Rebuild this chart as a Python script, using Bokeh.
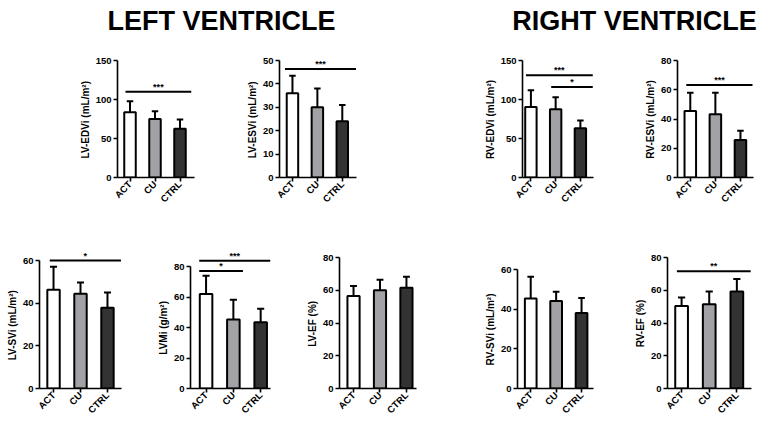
import math
from bokeh.plotting import figure
from bokeh.layouts import column, row
from bokeh.models import Range1d, FixedTicker, Label, Title
from bokeh.embed import file_html
from bokeh.resources import INLINE
from bokeh.core.properties import value

# ---------------- data ----------------
groups = ["ACT", "CU", "CTRL"]
group_x = [1, 2, 3]
bar_colors = ["#ffffff", "#a2a2a6", "#333333"]

lv_edvi_mean = [83.5, 75.0, 62.5]
lv_edvi_sd = [14.3, 10.0, 11.7]
lv_esvi_mean = [36.0, 30.0, 24.0]
lv_esvi_sd = [7.5, 8.0, 7.0]
rv_edvi_mean = [90.5, 87.5, 63.0]
rv_edvi_sd = [21.5, 15.5, 10.0]
rv_esvi_mean = [45.5, 43.3, 25.7]
rv_esvi_sd = [12.5, 14.7, 6.3]
lv_svi_mean = [46.3, 44.4, 37.8]
lv_svi_sd = [10.8, 5.3, 7.2]
lvmi_mean = [62.0, 45.3, 43.4]
lvmi_sd = [12.0, 12.9, 8.9]
lv_ef_mean = [56.6, 60.1, 61.6]
lv_ef_sd = [6.2, 6.5, 6.8]
rv_svi_mean = [45.4, 44.1, 38.1]
rv_svi_sd = [11.0, 4.7, 7.5]
rv_ef_mean = [50.5, 51.6, 59.4]
rv_ef_sd = [5.2, 7.8, 7.6]

lv_edvi_ticks = [0, 50, 100, 150]
lv_esvi_ticks = [0, 10, 20, 30, 40, 50]
rv_edvi_ticks = [0, 50, 100, 150]
rv_esvi_ticks = [0, 20, 40, 60, 80]
lv_svi_ticks = [0, 20, 40, 60]
lvmi_ticks = [0, 20, 40, 60, 80]
lv_ef_ticks = [0, 20, 40, 60, 80]
rv_svi_ticks = [0, 20, 40, 60]
rv_ef_ticks = [0, 20, 40, 60, 80]

# significance brackets: (stars, from, to, level)
lv_edvi_sig = [("***", 0.82, 3.45, 110)]
lv_esvi_sig = [("***", 0.70, 3.55, 46.4)]
rv_edvi_sig = [("***", 0.80, 3.50, 131), ("*", 1.82, 3.50, 116)]
rv_esvi_sig = [("***", 0.84, 3.48, 63.3)]
lv_svi_sig = [("*", 0.86, 3.50, 60)]
lvmi_sig = [("***", 0.75, 3.36, 83.8), ("*", 0.75, 2.35, 77)]
lv_ef_sig = []
rv_svi_sig = []
rv_ef_sig = [("**", 0.83, 3.50, 71.7)]

titles = ["LEFT VENTRICLE", "RIGHT VENTRICLE"]

FONT = "Liberation Sans"
LABEL_PX = 10
# Arial/Liberation Sans Bold advance widths (1/1000 em) used to centre the axis titles
ADV = {" ": 278, "(": 333, ")": 333, "-": 333, "/": 278, "%": 889, "²": 333,
       "C": 722, "D": 722, "E": 667, "F": 611, "L": 611, "M": 833, "R": 722,
       "S": 667, "V": 667, "g": 611, "i": 278, "m": 889}


def text_len(s, px):
    return sum(ADV.get(ch, 600) for ch in s) / 1000.0 * px


def panel(ylabel, mean, sd, ticks, sig, horiz, vert, ymax_px, xr):
    bl, fw, br = horiz              # left border, frame width, right border
    bt, fh, bb, ftop = vert         # row-shared borders / frame height, frame top (px)
    fbot = ftop + fh                # value 0 sits on the frame bottom
    ppu = (fbot - ymax_px) / ticks[-1]
    y_end = fh / ppu
    p = figure(width=bl + fw + br, height=bt + fh + bb,
               x_range=Range1d(*xr), y_range=Range1d(0, y_end),
               toolbar_location=None, output_backend="svg", title=None,
               min_border_left=bl, min_border_right=br,
               min_border_top=bt, min_border_bottom=bb)
    p.xgrid.visible = False
    p.ygrid.visible = False
    p.outline_line_color = None
    p.background_fill_color = "white"
    p.border_fill_color = "white"

    top = [m + s for m, s in zip(mean, sd)]
    cw = 0.13
    p.segment(x0=group_x, y0=mean, x1=group_x, y1=top, line_color="black", line_width=2)
    p.segment(x0=[x - cw for x in group_x], y0=top, x1=[x + cw for x in group_x], y1=top,
              line_color="black", line_width=2)
    p.vbar(x=group_x, top=mean, width=0.46, bottom=0, fill_color=bar_colors,
           line_color="black", line_width=2)

    for stars, a, b, lvl in sig:
        p.segment(x0=[a], y0=[lvl], x1=[b], y1=[lvl], line_color="black", line_width=2)
        p.text(x=[(a + b) / 2], y=[lvl], text=[stars], text_align="center",
               text_baseline="bottom", text_font=value(FONT), text_font_style="bold",
               text_font_size="9px", text_color="black")

    xa = p.xaxis[0]
    xa.ticker = FixedTicker(ticks=group_x)
    xa.major_label_overrides = {gx: g for gx, g in zip(group_x, groups)}
    xa.major_label_orientation = math.pi / 4
    xa.major_label_standoff = 1
    ya = p.yaxis[0]
    ya.ticker = FixedTicker(ticks=ticks)
    ya.bounds = (ticks[0], ticks[-1])
    ya.major_label_standoff = 2
    for ax in (xa, ya):
        ax.axis_line_width = 1.6
        ax.axis_line_color = "black"
        ax.major_tick_line_width = 1.6
        ax.major_tick_line_color = "black"
        ax.major_tick_out = 4
        ax.major_tick_in = 0
        ax.minor_tick_line_color = None
        ax.major_label_text_color = "black"
        ax.major_label_text_font = FONT
        ax.major_label_text_font_style = "bold"
        ax.major_label_text_font_size = "9.5px"

    # y axis title, centred on the drawn axis (0 .. top tick)
    centre = (fbot + ymax_px) / 2
    offset = fbot - centre - text_len(ylabel, LABEL_PX) / 2
    p.add_layout(Title(text=ylabel, align="left", offset=offset, standoff=4,
                       text_font=FONT, text_font_style="bold",
                       text_font_size=f"{LABEL_PX}px", text_color="black"), "left")
    return p


# title strip
tp = figure(width=762, height=50, x_range=Range1d(0, 762), y_range=Range1d(0, 50),
            toolbar_location=None, output_backend="svg", title=None,
            x_axis_type=None, y_axis_type=None, min_border=0)
tp.grid.visible = False
tp.outline_line_color = None
for txt, cx in zip(titles, [221, 634]):
    tp.add_layout(Label(x=cx, y=29.5, text=txt, text_font=FONT,
                        text_font_style="bold", text_font_size="27px", text_color="black",
                        text_align="center", text_baseline="middle"))

TOP = (10, 117, 58, 60)     # row 1: top border, frame height, bottom border, frame top px
BOT = (8, 145, 39, 243)     # row 2

pA = panel("LV-EDVi (mL/m²)", lv_edvi_mean, lv_edvi_sd, lv_edvi_ticks, lv_edvi_sig,
           (117, 77, 4), TOP, 60, (0.50, 3.58))
pB = panel("LV-ESVi (mL/m²)", lv_esvi_mean, lv_esvi_sd, lv_esvi_ticks, lv_esvi_sig,
           (81, 77, 4), TOP, 60, (0.48, 3.57))
pC = panel("RV-EDVi (mL/m²)", rv_edvi_mean, rv_edvi_sd, rv_edvi_ticks, rv_edvi_sig,
           (162, 71, 4), TOP, 60, (0.66, 3.53))
pD = panel("RV-ESVi (mL/m²)", rv_esvi_mean, rv_esvi_sd, rv_esvi_ticks, rv_esvi_sig,
           (80, 76, 9), TOP, 60, (0.49, 3.52))

pE = panel("LV-SVi (mL/m²)", lv_svi_mean, lv_svi_sd, lv_svi_ticks, lv_svi_sig,
           (39, 82, 4), BOT, 260, (0.48, 3.52))
pF = panel("LVMi (g/m²)", lvmi_mean, lvmi_sd, lvmi_ticks, lvmi_sig,
           (65, 80, 4), BOT, 266, (0.43, 3.36))
pG = panel("LV-EF (%)", lv_ef_mean, lv_ef_sd, lv_ef_ticks, lv_ef_sig,
           (65, 77, 4), BOT, 257.3, (0.47, 3.38))
pH = panel("RV-SVi (mL/m²)", rv_svi_mean, rv_svi_sd, rv_svi_ticks, rv_svi_sig,
           (97, 76, 4), BOT, 269, (0.48, 3.47))
pI = panel("RV-EF (%)", rv_ef_mean, rv_ef_sd, rv_ef_ticks, rv_ef_sig,
           (70, 84, 11), BOT, 257.3, (0.49, 3.53))

layout = column(tp, row(pA, pB, pC, pD), row(pE, pF, pG, pH, pI))

open("out.html", "w").write(file_html(layout, INLINE))
